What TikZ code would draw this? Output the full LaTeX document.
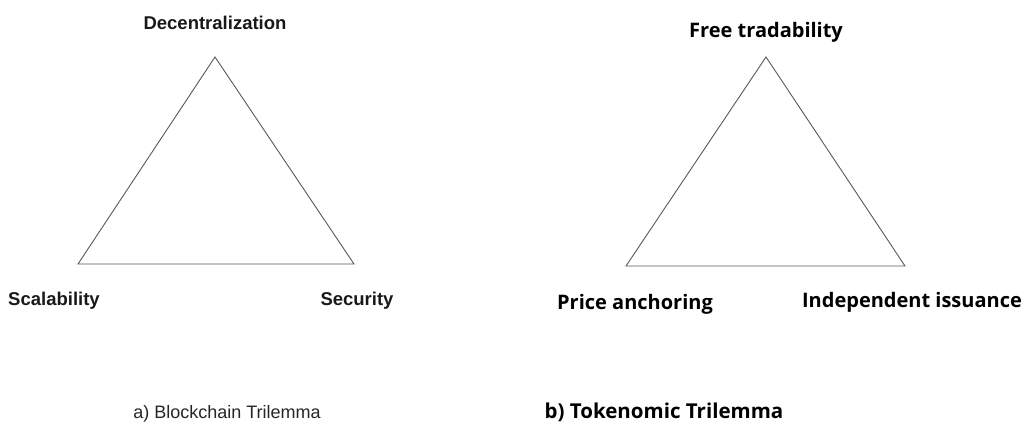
\documentclass[tikz,border=0pt]{standalone}
\usepackage{fontspec}
\setmainfont{Liberation Sans}
\newfontfamily\segoe{Open Sans}
\begin{document}
\begin{tikzpicture}[x=1pt,y=-1pt,
  edge/.style={draw=black!65,line width=0.9pt,line join=miter},
  helv/.style={font=\fontsize{18.5}{20}\selectfont\bfseries,text=black!90,inner sep=0pt,anchor=base},
  segb/.style={font=\segoe\fontsize{20}{22}\selectfont\bfseries,text=black,inner sep=0pt,anchor=base},
  capa/.style={font=\fontsize{18}{20}\selectfont,text=black!85,inner sep=0pt,anchor=base},
  capb/.style={font=\segoe\fontsize{20.5}{22}\selectfont\bfseries,text=black,inner sep=0pt,anchor=base}]
\useasboundingbox[fill=white] (0,0) rectangle (1027,423);
% left triangle: blockchain trilemma
\coordinate (a1) at (215,57);
\coordinate (a2) at (78,264);
\coordinate (a3) at (354,264);
\draw[edge] (a1) -- (a2) -- (a3) -- cycle;
\node[helv] (dec) at (215,29) {Decentralization};
\node[helv] (sca) at (54,305) {Scalability};
\node[helv] (sec) at (357,305) {Security};
\node[capa] (capa) at (227,418) {a) Blockchain Trilemma};
% right triangle: tokenomic trilemma
\coordinate (b1) at (766,57);
\coordinate (b2) at (626,266);
\coordinate (b3) at (905,266);
\draw[edge] (b1) -- (b2) -- (b3) -- cycle;
\node[segb] (free) at (766,37) {Free tradability};
\node[segb] (price) at (635,309) {Price anchoring};
\node[segb] (indep) at (912,307) {Independent issuance};
\node[capb] (capb) at (664,418) {b) Tokenomic Trilemma};
\end{tikzpicture}
\end{document}
